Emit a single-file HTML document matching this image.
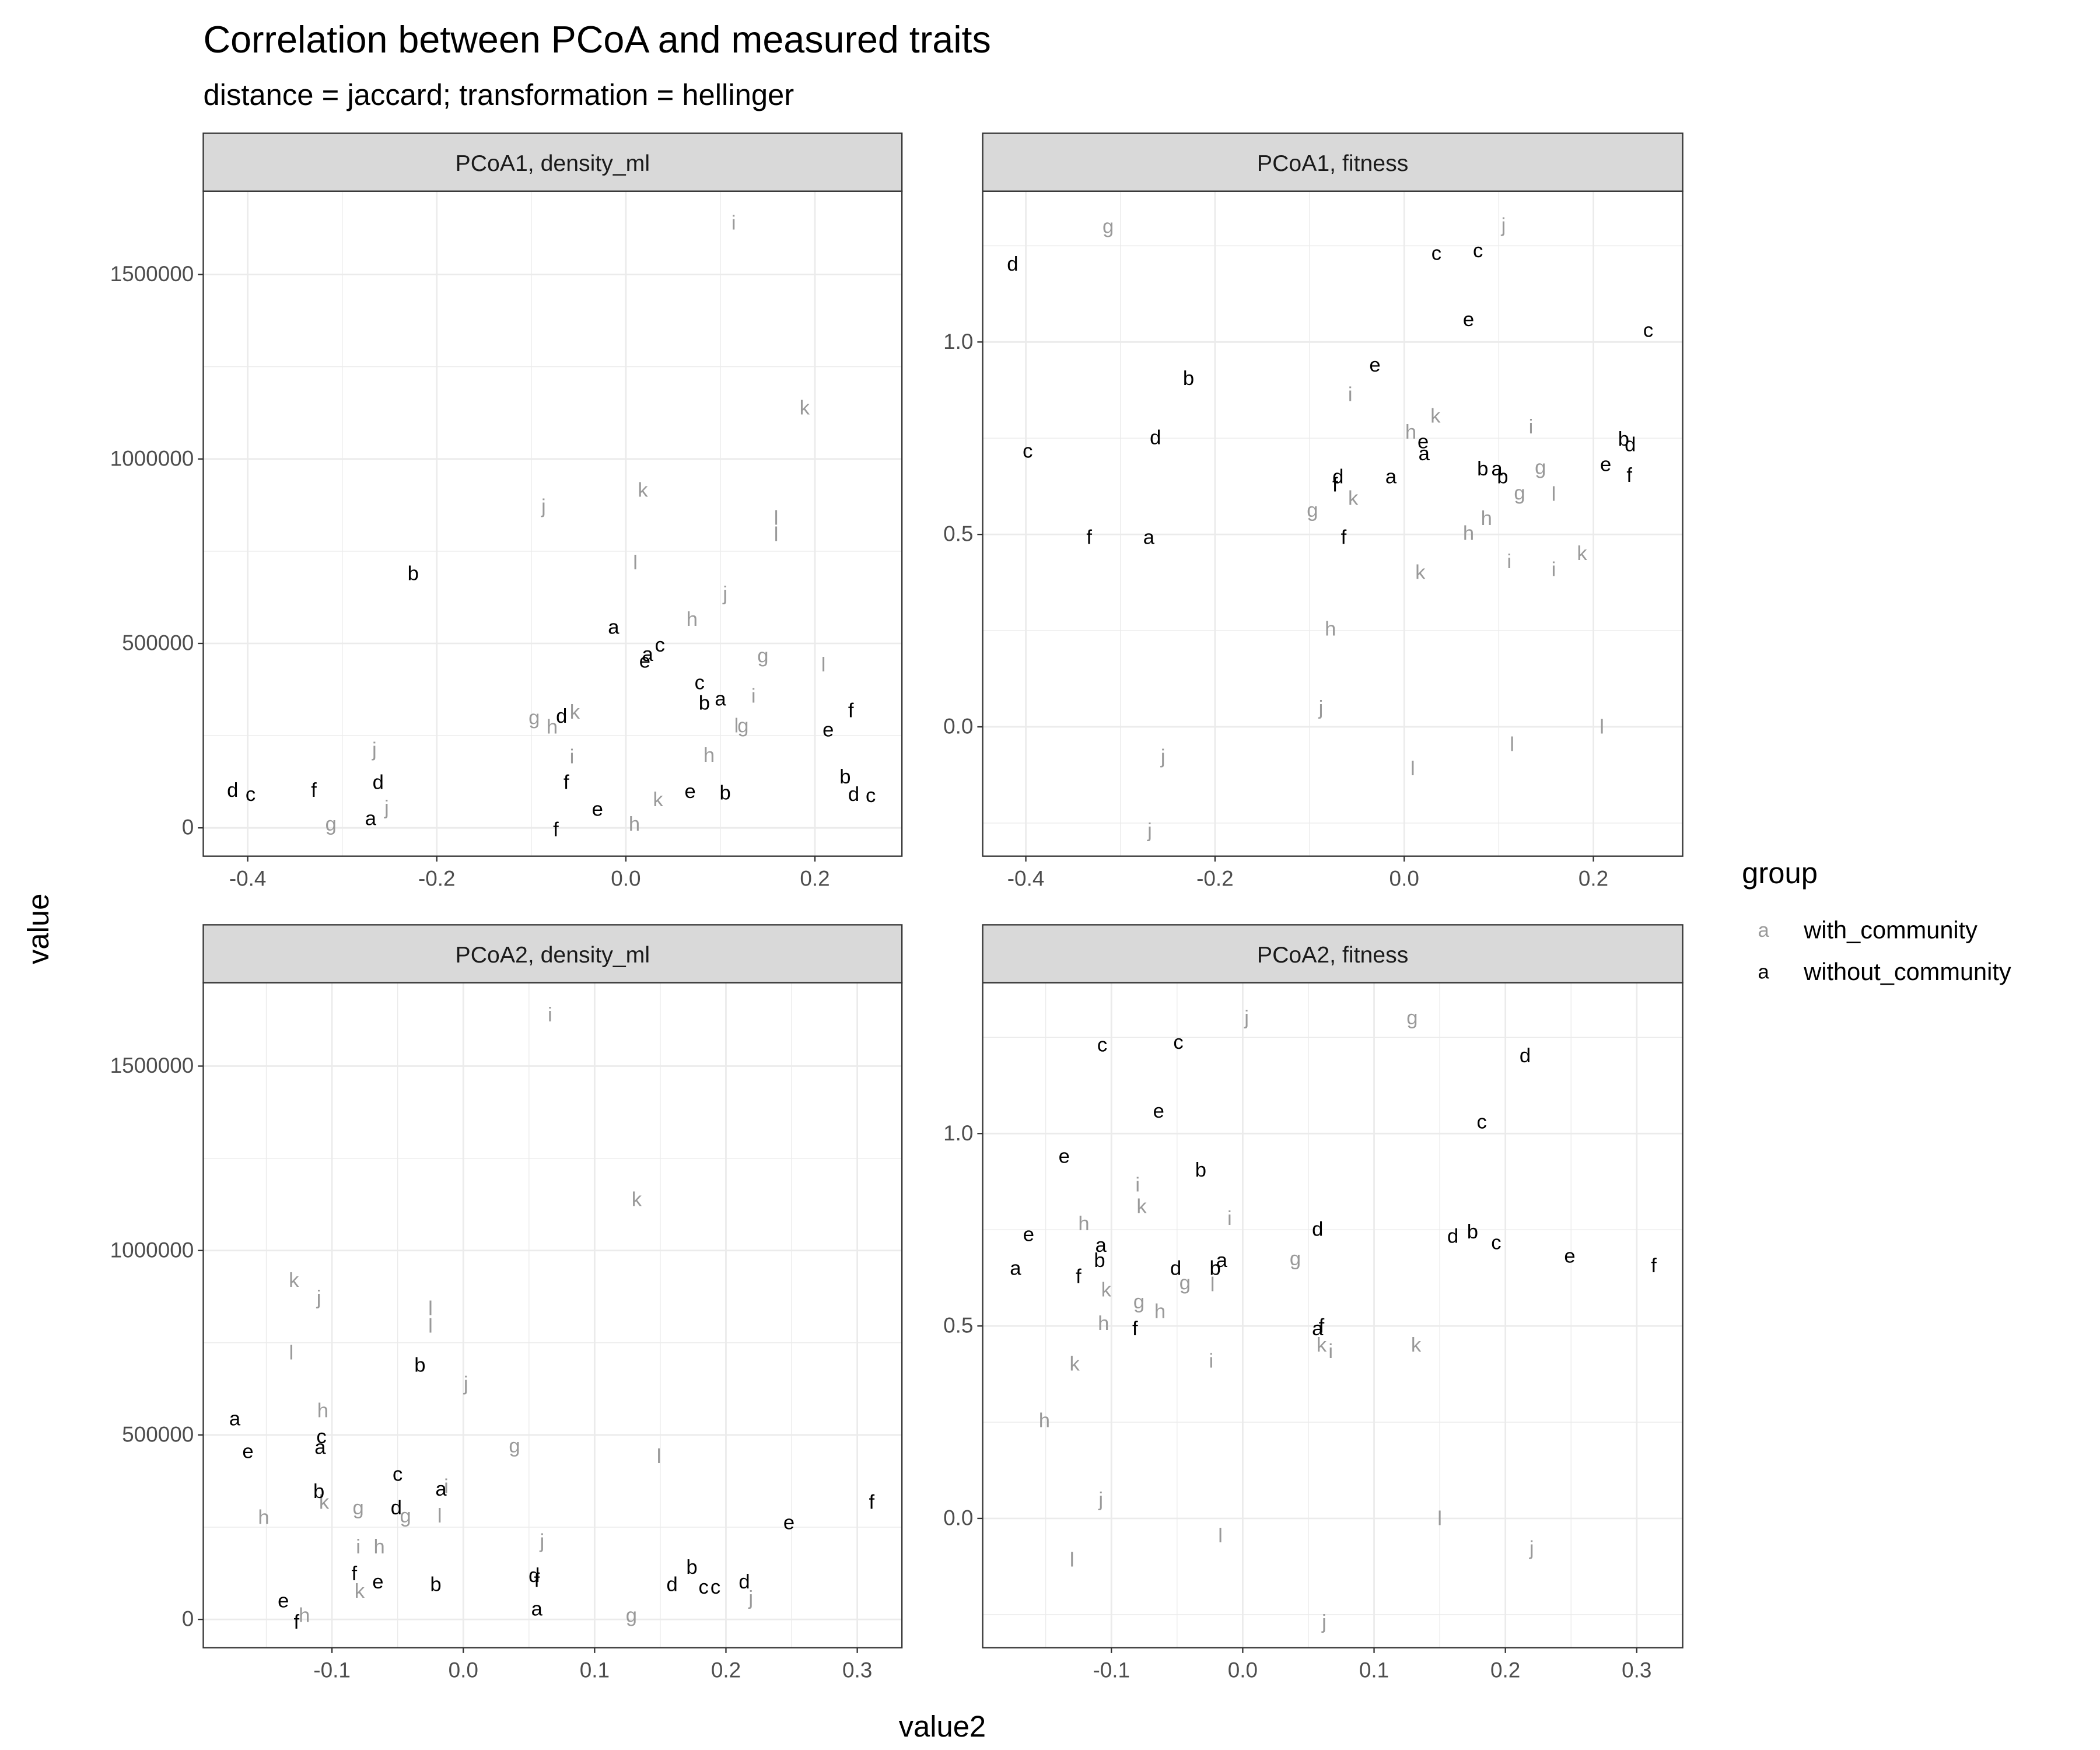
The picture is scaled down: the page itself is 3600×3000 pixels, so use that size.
<!DOCTYPE html>
<html><head><meta charset="utf-8"><style>
html,body{margin:0;padding:0;background:#fff}
svg{display:block;font-family:"Liberation Sans",Arial,sans-serif}
</style></head><body>
<svg id="chart" width="3600" height="3000" viewBox="0 0 1560 1300" xmlns="http://www.w3.org/2000/svg">
<text x="151" y="39" font-size="28" fill="#000">Correlation between PCoA and measured traits</text>
<text x="151" y="78" font-size="22" fill="#000">distance = jaccard; transformation = hellinger</text>
<text x="700" y="1290" font-size="22" text-anchor="middle">value2</text>
<text x="36" y="690" font-size="22" text-anchor="middle" transform="rotate(-90 36 690)">value</text>
<g>
<text x="1294" y="656" font-size="22">group</text>
<text x="1310" y="696" font-size="15" fill="#999" text-anchor="middle">a</text>
<text x="1340" y="697" font-size="18">with_community</text>
<text x="1310" y="727" font-size="15" fill="#000" text-anchor="middle">a</text>
<text x="1340" y="728" font-size="18">without_community</text>
</g>
<g id="panels"></g>
</svg>
<script>
// Panel 1: PCoA1, density_ml
const p1x=[0.114,0.189,-0.087,0.018,0.159,0.159,0.010,0.105,0.070,0.145,0.209,0.135,0.117,0.124,-0.097,-0.078,-0.054,-0.057,0.088,-0.266,-0.253,-0.312,0.034,0.009,
-0.225,-0.013,0.036,0.023,0.020,0.078,0.083,0.100,-0.068,-0.063,-0.262,-0.330,-0.416,-0.397,-0.270,-0.030,0.068,0.105,-0.074,0.214,0.238,0.232,0.241,0.259];
const p1y=[1640000,1139000,872000,916000,840000,796000,719000,635000,566000,467000,442000,358000,277000,277000,299000,274000,314000,193000,197000,212000,55000,11000,77000,11000,
690000,544000,496000,471000,453000,394000,339000,350000,303000,124000,124000,102000,102000,91000,26000,51000,99000,95000,-4000,266000,318000,139000,91000,88000];
const p1lab="ikjkllljhglilgghkihjjgkh"+"bacaecbadfdfdcaeebfefbdc";
const p1grp="gggggggggggggggggggggggg"+"bbbbbbbbbbbbbbbbbbbbbbbb";
// Panel 2: PCoA1, fitness
const p2x=[-0.313,0.105,-0.057,0.033,0.007,0.134,0.144,0.122,0.158,-0.097,-0.054,0.087,0.068,0.111,0.158,0.188,0.017,-0.078,-0.088,-0.255,0.114,0.209,0.009,-0.269,
-0.414,0.034,0.078,0.068,0.258,-0.031,-0.228,-0.263,-0.398,0.020,0.021,0.232,0.239,0.213,0.238,0.083,0.098,0.104,-0.014,-0.070,-0.073,-0.333,-0.270,-0.064];
const p2y=[1.301,1.304,0.864,0.808,0.766,0.780,0.675,0.608,0.605,0.563,0.594,0.542,0.503,0.430,0.409,0.451,0.402,0.255,0.049,-0.077,-0.045,0.000,-0.108,-0.269,
1.203,1.231,1.238,1.059,1.031,0.941,0.906,0.752,0.717,0.741,0.710,0.748,0.734,0.682,0.654,0.671,0.671,0.650,0.650,0.650,0.629,0.493,0.493,0.493];
const p2lab="gjikhigglgkhhiikkhjjlllj"+"dccecebdceabdefbabadffaf";
const p2grp="gggggggggggggggggggggggg"+"bbbbbbbbbbbbbbbbbbbbbbbb";
// Panel 3: PCoA2, density_ml
const p3x=[0.066,0.132,-0.129,-0.110,-0.025,-0.025,-0.131,0.002,-0.107,0.039,0.149,-0.013,-0.106,-0.080,-0.044,-0.018,-0.152,0.060,-0.080,-0.064,-0.079,0.219,-0.121,0.128,
-0.174,-0.164,-0.108,-0.109,-0.033,-0.050,-0.017,-0.110,-0.051,-0.083,-0.065,-0.021,0.054,0.056,0.056,-0.137,-0.127,0.174,0.159,0.183,0.192,0.214,0.248,0.311];
const p3y=[1639000,1139000,920000,872000,843000,796000,723000,639000,566000,471000,442000,361000,318000,303000,281000,281000,277000,212000,197000,197000,77000,58000,11000,11000,
544000,456000,496000,467000,690000,394000,354000,347000,303000,124000,102000,95000,120000,106000,29000,51000,-7000,142000,95000,88000,88000,102000,263000,318000];
const p3lab="ikkjllljhglikgglhjihkjhg"+"aecabcabdfebdfaefbdccdef";
const p3grp="gggggggggggggggggggggggg"+"bbbbbbbbbbbbbbbbbbbbbbbb";
// Panel 4: PCoA2, fitness
const p4x=[0.003,0.129,-0.080,-0.077,-0.121,-0.010,0.040,-0.044,-0.023,-0.104,-0.079,-0.063,-0.106,0.067,-0.024,0.060,0.132,-0.128,-0.151,-0.108,0.150,-0.017,0.220,-0.130,0.062,
-0.107,-0.049,0.215,-0.064,0.182,-0.136,-0.032,0.057,-0.163,0.160,0.175,0.193,-0.108,-0.109,0.249,-0.016,-0.021,-0.051,-0.173,0.313,-0.125,-0.082,0.057,0.060];
const p4y=[1.301,1.301,0.867,0.811,0.766,0.780,0.675,0.612,0.608,0.594,0.563,0.538,0.507,0.434,0.409,0.451,0.451,0.402,0.255,0.049,0.000,-0.045,-0.077,-0.108,-0.269,
1.231,1.238,1.203,1.059,1.031,0.941,0.906,0.752,0.738,0.734,0.745,0.717,0.710,0.671,0.682,0.671,0.650,0.650,0.650,0.657,0.629,0.493,0.493,0.500];
const p4lab="jgikhigglkghhiikkkhjlljlj"+"ccdecebdedbcabeabdafffaf";
const p4grp="ggggggggggggggggggggggggg"+"bbbbbbbbbbbbbbbbbbbbbbbb";
// Tick labels
const yTicksDensity=[0,500000,1000000,1500000];
const yTicksFitness=[0.0,0.5,1.0];
const xTicksPCoA1=[-0.4,-0.2,0.0,0.2];
const xTicksPCoA2=[-0.1,0.0,0.1,0.2,0.3];

const panels=[
 {name:"pcoa1-density-ml",title:"PCoA1, density_ml",x0:151,x1:670,y0:142,y1:636,xd:[-0.447,0.292],yd:[-76700,1726000],xs:p1x,ys:p1y,lab:p1lab,grp:p1grp,xt:xTicksPCoA1,xstep:0.1,yt:yTicksDensity,ystep:250000},
 {name:"pcoa1-fitness",title:"PCoA1, fitness",x0:730,x1:1250,y0:142,y1:636,xd:[-0.4456,0.2944],yd:[-0.336,1.392],xs:p2x,ys:p2y,lab:p2lab,grp:p2grp,xt:xTicksPCoA1,xstep:0.1,yt:yTicksFitness,ystep:0.25},
 {name:"pcoa2-density-ml",title:"PCoA2, density_ml",x0:151,x1:670,y0:730,y1:1224,xd:[-0.198,0.334],yd:[-76700,1726000],xs:p3x,ys:p3y,lab:p3lab,grp:p3grp,xt:xTicksPCoA2,xstep:0.05,yt:yTicksDensity,ystep:250000},
 {name:"pcoa2-fitness",title:"PCoA2, fitness",x0:730,x1:1250,y0:730,y1:1224,xd:[-0.198,0.335],yd:[-0.336,1.392],xs:p4x,ys:p4y,lab:p4lab,grp:p4grp,xt:xTicksPCoA2,xstep:0.05,yt:yTicksFitness,ystep:0.25}
];
const NS="http://www.w3.org/2000/svg";
const root=document.getElementById('panels');
function mk(tag,attrs,parent){const e=document.createElementNS(NS,tag);for(const k in attrs)e.setAttribute(k,attrs[k]);parent.appendChild(e);return e;}
function fmt(v,isDensity){if(isDensity)return String(Math.round(v));return v.toFixed(1);}
panels.forEach(p=>{
 const g=mk('g',{},root);
 
 
 const sx=v=>p.x0+(v-p.xd[0])/(p.xd[1]-p.xd[0])*(p.x1-p.x0);
 const sy=v=>p.y1-(v-p.yd[0])/(p.yd[1]-p.yd[0])*(p.y1-p.y0);
 const isD=p.yd[1]>100;
 const gx0=Math.ceil(p.xd[0]/p.xstep),gx1=Math.floor(p.xd[1]/p.xstep);
 for(let i=gx0;i<=gx1;i++){const v=i*p.xstep;const X=sx(v);
  const l=mk('line',{x1:X,x2:X,y1:p.y0,y2:p.y1,stroke:'#ebebeb','stroke-width':0.6},g);
  }
 const gy0=Math.ceil(p.yd[0]/p.ystep),gy1=Math.floor(p.yd[1]/p.ystep);
 for(let i=gy0;i<=gy1;i++){const v=i*p.ystep;const Y=sy(v);
  const l=mk('line',{x1:p.x0,x2:p.x1,y1:Y,y2:Y,stroke:'#ebebeb','stroke-width':0.6},g);
  }
 p.xt.forEach(v=>{const X=sx(v);
  const l=mk('line',{x1:X,x2:X,y1:p.y0,y2:p.y1,stroke:'#ebebeb','stroke-width':1.2},g);
  
  mk('line',{x1:X,x2:X,y1:p.y1,y2:p.y1+4,stroke:'#333','stroke-width':1},g);
  const t=mk('text',{x:X,y:p.y1+22,'font-size':16,fill:'#4d4d4d','text-anchor':'middle'},g);
  t.textContent=v.toFixed(1);
  });
 p.yt.forEach(v=>{const Y=sy(v);
  const l=mk('line',{x1:p.x0,x2:p.x1,y1:Y,y2:Y,stroke:'#ebebeb','stroke-width':1.2},g);
  
  mk('line',{x1:p.x0-4,x2:p.x0,y1:Y,y2:Y,stroke:'#333','stroke-width':1},g);
  const t=mk('text',{x:p.x0-7,y:Y+5,'font-size':16,fill:'#4d4d4d','text-anchor':'end'},g);
  t.textContent=fmt(v,isD);
  });
 for(let i=0;i<p.xs.length;i++){
  const t=mk('text',{x:sx(p.xs[i]),y:sy(p.ys[i])+5,'font-size':15,'text-anchor':'middle',fill:p.grp[i]==='g'?'#999999':'#000000'},g);
  t.textContent=p.lab[i]||'';
  
  
 }
 const b=mk('rect',{x:p.x0,y:p.y0,width:p.x1-p.x0,height:p.y1-p.y0,fill:'none',stroke:'#333','stroke-width':1},g);
 
 const s=mk('rect',{x:p.x0,y:p.y0-43,width:p.x1-p.x0,height:43,fill:'#d9d9d9',stroke:'#333','stroke-width':1},g);
 
 const st=mk('text',{x:(p.x0+p.x1)/2,y:p.y0-15,'font-size':17,fill:'#1a1a1a','text-anchor':'middle'},g);
 st.textContent=p.title;
 
});
</script>
</body></html>
